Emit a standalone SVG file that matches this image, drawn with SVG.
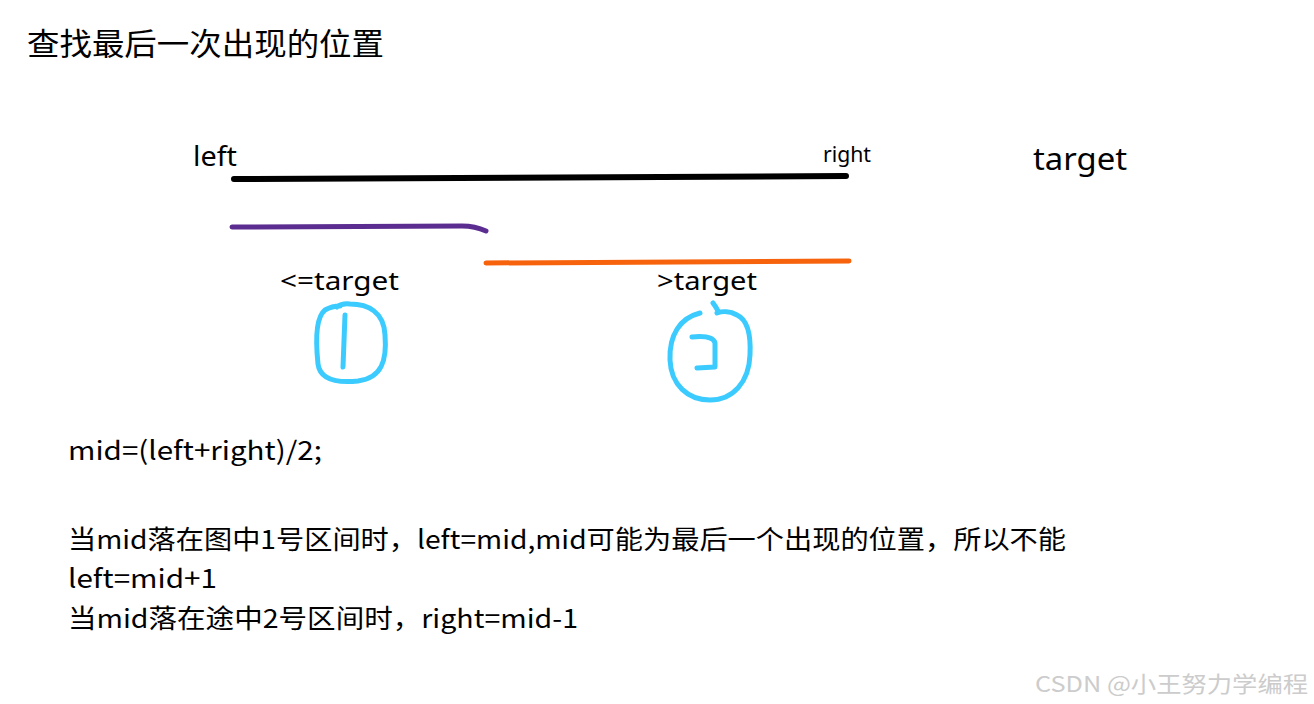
<svg xmlns="http://www.w3.org/2000/svg" width="1314" height="704" viewBox="0 0 1314 704">
<style>
.t{font-family:"Noto Sans","Noto Sans CJK SC",sans-serif;fill:#000}
.cj{font-family:"Noto Sans CJK SC","Noto Sans",sans-serif;fill:#000}
.ln{fill:none;stroke-linecap:round;stroke-linejoin:round}
.blue{fill:none;stroke:#3ccbff;stroke-width:5;stroke-linecap:round;stroke-linejoin:round}
</style>
<rect width="1314" height="704" fill="#fff"/>
<g id="title"><text class="cj" x="27" y="55" font-size="31" textLength="357" lengthAdjust="spacingAndGlyphs">查找最后一次出现的位置</text></g>
<g id="labels">
<text class="t" x="193" y="166" font-size="27" textLength="44" lengthAdjust="spacingAndGlyphs">left</text>
<text class="t" x="823" y="162" font-size="21" textLength="48" lengthAdjust="spacingAndGlyphs">right</text>
<text class="t" x="1033" y="170" font-size="31" textLength="94" lengthAdjust="spacingAndGlyphs">target</text>
<text class="t" x="280" y="290" font-size="26" textLength="119" lengthAdjust="spacingAndGlyphs">&lt;=target</text>
<text class="t" x="657" y="290" font-size="26" textLength="100" lengthAdjust="spacingAndGlyphs">&gt;target</text>
</g>
<g id="connectors">
<path class="ln" d="M 234 179 L 846 176" stroke="#000" stroke-width="6"/>
<path class="ln" d="M 232 227 L 462 226 Q 475 226 486 231" stroke="#5c2d91" stroke-width="5"/>
<path class="ln" d="M 486 263 L 849 261" stroke="#f7630c" stroke-width="5"/>
</g>
<g id="region1">
<path class="blue" d="M 337 307 Q 342 303 350 304 C 368 304 384 312 385 335 C 387 360 382 378 358 381 C 338 383 320 380 318 364 C 316 345 315 318 325 310 Q 332 306 340 306"/>
<path class="blue" d="M 345 315 L 343 367"/>
</g>
<g id="region2">
<path class="blue" d="M 700 313 C 680 318 669 335 670 360 C 671 385 688 400 710 400 C 733 400 749 382 750 355 C 751 335 748 320 737 315 C 730 311 722 311 717 313 M 713 303 Q 716 307 718 311"/>
<path class="blue" d="M 692 337 Q 713 335 715 343 L 715 367 L 697 368"/>
</g>
<g id="notes">
<text class="cj" x="68" y="460" font-size="26" textLength="254" lengthAdjust="spacingAndGlyphs">mid=(left+right)/2;</text>
<text class="cj" x="68" y="549" font-size="26" textLength="998" lengthAdjust="spacingAndGlyphs">当mid落在图中1号区间时，left=mid,mid可能为最后一个出现的位置，所以不能</text>
<text class="cj" x="68" y="588" font-size="26" textLength="149" lengthAdjust="spacingAndGlyphs">left=mid+1</text>
<text class="cj" x="68" y="628" font-size="26" textLength="510" lengthAdjust="spacingAndGlyphs">当mid落在途中2号区间时，right=mid-1</text>
</g>
<g id="watermark"><text class="cj" x="1035" y="692" font-size="22" fill="#cfcfcf" style="fill:#cccccc" textLength="273" lengthAdjust="spacingAndGlyphs">CSDN @小王努力学编程</text></g>
</svg>
